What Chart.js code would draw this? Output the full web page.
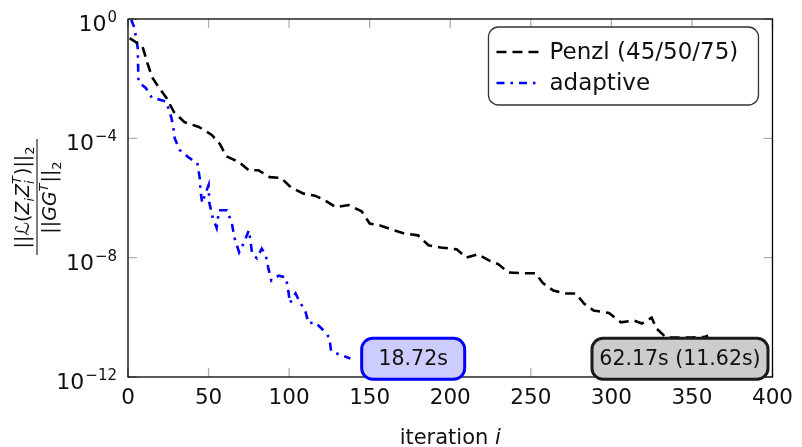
<!DOCTYPE html>
<html>
<head>
<meta charset="utf-8">
<script src="https://cdn.jsdelivr.net/npm/chart.js@4.4.1/dist/chart.umd.min.js"></script>
<style>
    html, body { margin: 0; padding: 0; background: #fff; }
    #wrap { width: 802px; height: 447px; position: relative; }
</style>
</head>
<body>
<div id="wrap"><canvas id="chart"></canvas></div>
<script>
// ============================================================
// Residual history: Penzl shifts vs adaptive shifts
// ============================================================

const penzlIter = [1, 9, 12, 15, 19, 24, 28.5, 35, 44, 52, 57, 61, 69, 75, 81, 88, 95, 101, 109, 116,
    122, 129, 137, 145, 150, 156.5, 165, 171, 180, 186.5, 194, 204, 210, 217, 224, 230, 236, 245, 253, 257.5,
    264, 271, 278, 283, 289, 298.5, 306, 314, 319, 325, 328, 334, 343, 350, 358, 360];
const penzlRes = [2.3e-1, 1.2e-1, 3.4e-2, 1.1e-2, 5.2e-3, 2.2e-3, 7.6e-4, 3.5e-4, 2.4e-4, 1.3e-4, 6.5e-5, 2.5e-5, 1.6e-5, 8.5e-6, 8.5e-6, 5.0e-6, 4.7e-6, 2.3e-6, 1.4e-6, 1.2e-6,
    8.5e-7, 4.9e-7, 5.8e-7, 3.6e-7, 1.4e-7, 1.2e-7, 8.3e-8, 6.6e-8, 5.6e-8, 2.6e-8, 2.2e-8, 1.9e-8, 1.0e-8, 1.3e-8, 8.1e-9, 6.0e-9, 3.2e-9, 3.0e-9, 3.0e-9, 1.4e-9,
    7.9e-10, 6.3e-10, 6.3e-10, 2.9e-10, 1.7e-10, 1.4e-10, 6.8e-11, 7.8e-11, 6.2e-11, 9.8e-11, 4.2e-11, 2.1e-11, 2.1e-11, 2.1e-11, 2.2e-11, 2.5e-11];

const adaptIter = [2, 4, 6, 6.5, 11, 15, 18, 23.5, 26, 28, 29, 32, 38, 43, 44.5, 45, 46, 50, 50.5, 52.5,
    55, 56.5, 61.5, 64.5, 66, 69, 72, 75, 76, 77, 80, 83, 85.5, 87, 89, 93.5, 98, 99.5, 100.5, 104,
    107, 110, 112, 116, 120, 125, 126, 130, 133, 138];
const adaptRes = [9.5e-1, 5.1e-1, 1.1e-1, 7.8e-3, 4.9e-3, 2.2e-3, 2.1e-3, 1.7e-3, 7.6e-4, 2.8e-4, 1.0e-4, 4.1e-5, 2.2e-5, 1.5e-5, 4.7e-6, 1.8e-6, 6.8e-7, 2.7e-6, 6.8e-7, 2.3e-7,
    1.0e-7, 3.9e-7, 3.9e-7, 1.4e-7, 4.8e-8, 1.5e-8, 3.2e-8, 8.3e-8, 3.8e-8, 1.4e-8, 9.5e-9, 2.0e-8, 1.2e-8, 4.7e-9, 1.7e-9, 2.5e-9, 2.2e-9, 7.9e-10, 3.0e-10, 6.3e-10,
    3.0e-10, 1.7e-10, 6.3e-11, 6.8e-11, 4.3e-11, 2.1e-11, 7.6e-12, 6.0e-12, 5.2e-12, 4.2e-12];

const seriesLabels = ['Penzl (45/50/75)', 'adaptive'];
const xTicks       = [0, 50, 100, 150, 200, 250, 300, 350, 400];
const yTicks       = [1e-12, 1e-8, 1e-4, 1];
const yTickExps    = ['−12', '−8', '−4', '0'];
const timeLabels   = ['18.72s', '62.17s (11.62s)'];

const FONT = '"DejaVu Sans", sans-serif';

// ---------- helpers ----------
function drawRuns(ctx, runs, cu, base, size) {
    const small = Math.round(size * 0.7);
    const font = (r, sz) => (r.it ? 'italic ' : '') + sz + 'px ' + FONT;
    const widths = runs.map(r => {
        if (r.t) { ctx.font = font(r, size); return ctx.measureText(r.t).width; }
        ctx.font = font(r, small);
        return Math.max(r.sub ? ctx.measureText(r.sub).width : 0, r.sup ? ctx.measureText(r.sup).width : 0) + 1;
    });
    let u = cu - widths.reduce((a, b) => a + b, 0) / 2;
    ctx.textAlign = 'left';
    ctx.textBaseline = 'alphabetic';
    runs.forEach((r, i) => {
        if (r.t) {
            ctx.font = font(r, size);
            ctx.fillText(r.t, u, base);
        } else {
            ctx.font = font(r, small);
            if (r.sup) ctx.fillText(r.sup, u, base - size * 0.42);
            if (r.sub) ctx.fillText(r.sub, u, base + size * 0.25);
        }
        u += widths[i];
    });
}

// ---------- plugins ----------
const framePlugin = {
    id: 'frame',
    afterDatasetsDraw(chart) {
        const { ctx, chartArea: a, scales: { x, y } } = chart;
        ctx.save();
        ctx.strokeStyle = '#b0b0b0';
        ctx.lineWidth = 1.3;
        const tl = 9;
        xTicks.forEach(v => {
            const px = x.getPixelForValue(v);
            ctx.beginPath();
            ctx.moveTo(px, a.bottom); ctx.lineTo(px, a.bottom - tl);
            ctx.moveTo(px, a.top);    ctx.lineTo(px, a.top + tl);
            ctx.stroke();
        });
        yTicks.forEach(v => {
            const py = y.getPixelForValue(v);
            ctx.beginPath();
            ctx.moveTo(a.left, py);  ctx.lineTo(a.left + tl, py);
            ctx.moveTo(a.right, py); ctx.lineTo(a.right - tl, py);
            ctx.stroke();
        });
        ctx.strokeStyle = '#000';
        ctx.lineWidth = 1.3;
        ctx.strokeRect(a.left, a.top, a.right - a.left, a.bottom - a.top);

        // y tick labels as 10 with a raised exponent
        ctx.fillStyle = '#111';
        ctx.textBaseline = 'alphabetic';
        yTicks.forEach((v, i) => {
            const py = y.getPixelForValue(v);
            const right = a.left - 11;
            ctx.font = '15px ' + FONT;
            ctx.textAlign = 'right';
            const ew = ctx.measureText(yTickExps[i]).width;
            ctx.fillText(yTickExps[i], right, py + 3);
            ctx.font = '22px ' + FONT;
            ctx.fillText('10', right - ew - 1, py + 12);
        });
        ctx.restore();
    }
};

const notesPlugin = {
    id: 'notes',
    afterDraw(chart) {
        const { ctx, scales: { x, y } } = chart;
        const notes = [
            { at: [177, 4.1e-12], w: 103, h: 41, fill: '#ccccff', stroke: '#0000ff' },
            { at: [342.6, 4.1e-12], w: 176, h: 41, fill: '#cccccc', stroke: '#1a1a1a' }
        ];
        ctx.save();
        notes.forEach((n, i) => {
            const cx = x.getPixelForValue(n.at[0]);
            const cy = y.getPixelForValue(n.at[1]);
            ctx.beginPath();
            ctx.roundRect(cx - n.w / 2, cy - n.h / 2, n.w, n.h, 11);
            ctx.fillStyle = n.fill;
            ctx.fill();
            ctx.lineWidth = 3;
            ctx.strokeStyle = n.stroke;
            ctx.stroke();
            ctx.fillStyle = '#111';
            ctx.font = '20.5px ' + FONT;
            ctx.textAlign = 'center';
            ctx.textBaseline = 'middle';
            ctx.fillText(timeLabels[i], cx, cy + 1);
        });
        ctx.restore();
    }
};

const legendPlugin = {
    id: 'boxLegend',
    afterDraw(chart) {
        const { ctx, chartArea: a } = chart;
        const w = 270, h = 78;
        const bx = a.right - 14 - w, by = a.top + 8;
        ctx.save();
        ctx.beginPath();
        ctx.roundRect(bx, by, w, h, 10);
        ctx.fillStyle = '#fff';
        ctx.fill();
        ctx.lineWidth = 1.3;
        ctx.strokeStyle = '#333';
        ctx.stroke();
        chart.data.datasets.forEach((ds, i) => {
            const ly = by + 25 + i * 31;
            ctx.beginPath();
            ctx.setLineDash(ds.borderDash);
            ctx.strokeStyle = ds.borderColor;
            ctx.lineWidth = ds.borderWidth;
            ctx.moveTo(bx + 8, ly); ctx.lineTo(bx + 52, ly);
            ctx.stroke();
            ctx.setLineDash([]);
            ctx.fillStyle = '#111';
            ctx.font = '23px ' + FONT;
            ctx.textAlign = 'left';
            ctx.textBaseline = 'middle';
            ctx.fillText(ds.label, bx + 61, ly + 1);
        });
        ctx.restore();
    }
};

const titlesPlugin = {
    id: 'axisTitles',
    afterDraw(chart) {
        const { ctx, chartArea: a } = chart;
        ctx.save();
        ctx.fillStyle = '#111';
        // x title
        ctx.font = '21px ' + FONT;
        const t1 = 'iteration ';
        const w1 = ctx.measureText(t1).width;
        ctx.font = 'italic 21px ' + FONT;
        const w2 = ctx.measureText('i').width;
        const sx = (a.left + a.right) / 2 - (w1 + w2) / 2;
        ctx.textAlign = 'left';
        ctx.textBaseline = 'alphabetic';
        ctx.font = '21px ' + FONT;
        ctx.fillText(t1, sx, 444);
        ctx.font = 'italic 21px ' + FONT;
        ctx.fillText('i', sx + w1, 444);

        // y title (fraction, rotated)
        ctx.translate(37, 197);
        ctx.rotate(-Math.PI / 2);
        drawRuns(ctx, [
            { t: '||' }, { t: 'ℒ', it: true }, { t: '(' }, { t: 'Z', it: true }, { sub: 'i', it: true },
            { t: 'Z', it: true }, { sub: 'i', sup: 'T', it: true }, { t: ')||' }, { sub: '2' }
        ], 0, -8, 19);
        drawRuns(ctx, [
            { t: '||' }, { t: 'GG', it: true }, { sup: 'T', it: true }, { t: '||' }, { sub: '2' }
        ], 0, 19, 19);
        ctx.strokeStyle = '#555';
        ctx.lineWidth = 1.5;
        ctx.beginPath();
        ctx.moveTo(-58, 0); ctx.lineTo(58, 0);
        ctx.stroke();
        ctx.restore();
    }
};

// ---------- chart ----------
const ctx = document.getElementById('chart').getContext('2d');
new Chart(ctx, {
    type: 'line',
    data: {
        datasets: [
            {
                label: seriesLabels[0],
                data: penzlIter.map((v, i) => ({ x: v, y: penzlRes[i] })),
                borderColor: '#000000',
                borderWidth: 2.6,
                borderDash: [10, 6],
                pointRadius: 0,
                fill: false,
                tension: 0
            },
            {
                label: seriesLabels[1],
                data: adaptIter.map((v, i) => ({ x: v, y: adaptRes[i] })),
                borderColor: '#0000ff',
                borderWidth: 2.6,
                borderDash: [8, 6, 2.5, 6],
                pointRadius: 0,
                fill: false,
                tension: 0
            }
        ]
    },
    options: {
        responsive: true,
        maintainAspectRatio: false,
        animation: false,
        layout: { padding: { left: 0, right: 21, top: 19, bottom: 0 } },
        plugins: { legend: { display: false }, tooltip: { enabled: false } },
        scales: {
            x: {
                type: 'linear',
                min: 0, max: 400,
                afterBuildTicks: s => { s.ticks = xTicks.map(v => ({ value: v })); },
                afterFit: s => { s.height = 70; },
                grid: { display: false, drawTicks: false },
                border: { display: false },
                ticks: { color: '#111', padding: 9, maxRotation: 0, font: { family: 'DejaVu Sans', size: 21.5 } }
            },
            y: {
                type: 'logarithmic',
                min: 1e-12, max: 1,
                afterBuildTicks: s => { s.ticks = yTicks.map(v => ({ value: v })); },
                afterFit: s => { s.width = 128; },
                grid: { display: false, drawTicks: false },
                border: { display: false },
                ticks: { display: false }
            }
        }
    },
    plugins: [framePlugin, legendPlugin, notesPlugin, titlesPlugin]
});
</script>
</body>
</html>
